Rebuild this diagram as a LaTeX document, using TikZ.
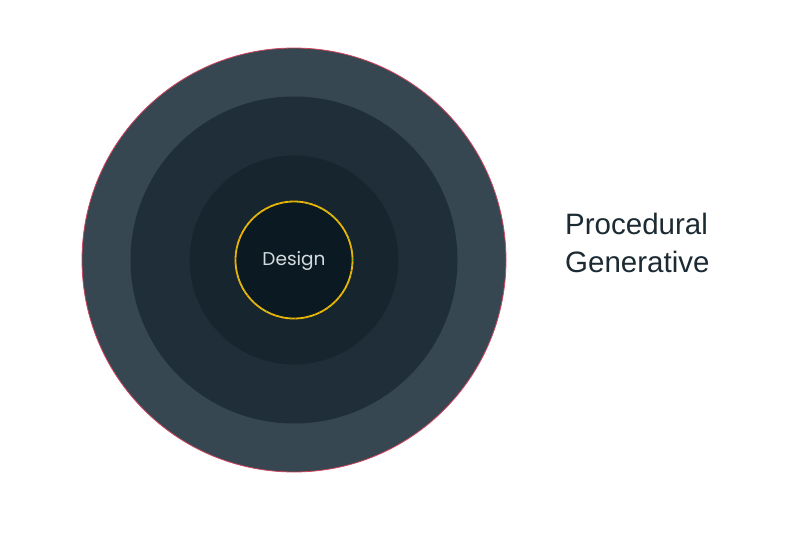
\documentclass[tikz,border=0pt]{standalone}
\usepackage{fontspec}
\setmainfont{Liberation Sans}
\newfontfamily\designfont{Poppins}
\definecolor{ringA}{HTML}{374751}
\definecolor{ringB}{HTML}{1F2E38}
\definecolor{ringC}{HTML}{17252F}
\definecolor{core}{HTML}{0A1922}
\definecolor{goldline}{HTML}{F2B600}
\definecolor{greenline}{HTML}{4CAF50}
\definecolor{edge}{HTML}{D0455F}
\definecolor{labeltext}{HTML}{1B2A33}
\definecolor{designtext}{HTML}{D5DCE0}
\begin{document}
\begin{tikzpicture}[x=1pt,y=-1pt,
  disc/.style={circle,inner sep=0pt,draw=none},
  sidelabel/.style={font=\fontsize{29.5}{38}\selectfont,text=labeltext,align=left,anchor=west,inner sep=0pt}]
\useasboundingbox (0,0) rectangle (800,533);
\coordinate (c) at (294,260);
\fill[ringA,draw=edge,line width=0.8pt] (c) circle (212);
\fill[ringB] (c) circle (163.5);
\fill[ringC] (c) circle (104.5);
\fill[core] (c) circle (59);
\draw[goldline,line width=1.8pt] (c) circle (58.5);
\draw[greenline,line width=0.6pt,dash pattern=on 1pt off 4pt] (c) circle (58.5);
\node[disc,text=designtext,font=\designfont\fontsize{18.5}{20}\selectfont] (design) at (294,261) {Design};
\node[sidelabel] (labels) at (565,243) {Procedural\\Generative};
\end{tikzpicture}
\end{document}
